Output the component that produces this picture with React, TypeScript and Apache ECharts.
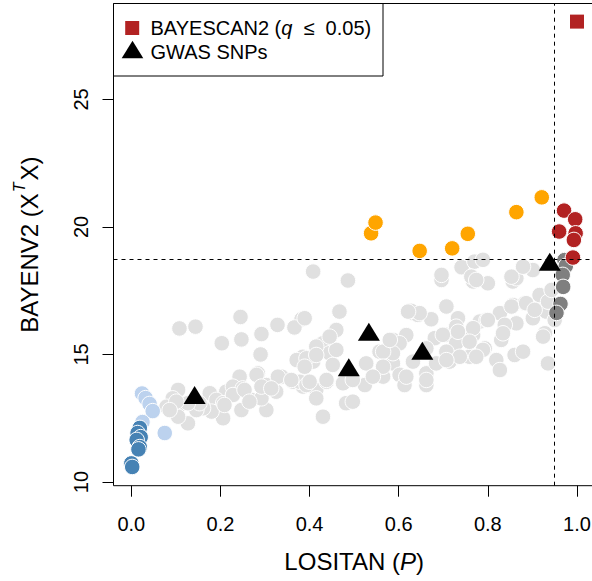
import React, { useEffect, useRef } from "react";
import * as echarts from "echarts";

const xTicks = [0, 0.2, 0.4, 0.6, 0.8, 1.0];
const yTicks = [10, 15, 20, 25];
const xThreshold = 0.95;
const yThreshold = 18.75;

const greyPoints = [
  [0.408, 18.25], [0.486, 17.9], [0.467, 16.68], [0.46, 15.96], [0.382, 16.38], [0.366, 16.06], [0.328, 16.16],
  [0.292, 15.8], [0.245, 16.47], [0.247, 15.59], [0.203, 15.44], [0.144, 16.09], [0.108, 16.02], [0.29, 15.0],
  [0.43, 15.44], [0.445, 15.05], [0.385, 14.91], [0.371, 14.78], [0.452, 14.59], [0.408, 14.72], [0.337, 14.13],
  [0.363, 13.93], [0.284, 14.26], [0.243, 14.13], [0.213, 13.54], [0.228, 13.74], [0.25, 13.67], [0.303, 13.8],
  [0.325, 13.54], [0.385, 13.74], [0.415, 13.61], [0.438, 13.93], [0.475, 13.87], [0.482, 13.09], [0.415, 13.28],
  [0.378, 13.93], [0.105, 13.61], [0.093, 13.28], [0.079, 12.95], [0.108, 13.02], [0.127, 12.3], [0.105, 12.56],
  [0.176, 13.48], [0.191, 13.22], [0.206, 13.09], [0.206, 12.5], [0.18, 12.76], [0.161, 12.89], [0.146, 12.82],
  [0.153, 13.09], [0.228, 13.41], [0.247, 12.82], [0.269, 13.22], [0.303, 12.82], [0.292, 13.28], [0.43, 12.56],
  [0.127, 13.09], [0.393, 14.85], [0.415, 15.31], [0.281, 14.2], [0.329, 14.13], [0.359, 14.0], [0.292, 13.74],
  [0.314, 13.67], [0.254, 13.61], [0.393, 13.8], [0.101, 13.15], [0.086, 12.82], [0.209, 13.02], [0.265, 13.15],
  [0.696, 17.92], [0.767, 17.86], [0.8, 17.79], [0.856, 17.86], [0.389, 16.42], [0.389, 14.52], [0.4, 13.93],
  [0.497, 13.15], [0.524, 13.8], [0.557, 15.11], [0.527, 14.65], [0.587, 15.57], [0.617, 15.76], [0.587, 14.65],
  [0.602, 14.2], [0.565, 14.13], [0.613, 13.8], [0.662, 13.8], [0.662, 14.26], [0.632, 16.62], [0.643, 16.55],
  [0.673, 16.38], [0.707, 16.88], [0.681, 15.64], [0.707, 15.77], [0.733, 16.42], [0.729, 15.44], [0.707, 15.11],
  [0.684, 14.65], [0.714, 14.72], [0.759, 14.91], [0.767, 15.77], [0.782, 16.29], [0.793, 15.24], [0.819, 14.78],
  [0.827, 14.39], [0.797, 16.35], [0.827, 16.62], [0.856, 16.94], [0.883, 17.01], [0.901, 16.42], [0.864, 16.22],
  [0.83, 15.57], [0.86, 14.98], [0.879, 15.11], [0.928, 15.83], [0.935, 14.65], [0.939, 17.01], [0.931, 16.68],
  [0.838, 16.16], [0.729, 16.09], [0.741, 18.42], [0.77, 18.64], [0.789, 18.71], [0.763, 18.05], [0.774, 17.92],
  [0.864, 17.99], [0.853, 18.05], [0.901, 18.31], [0.879, 18.44], [0.916, 17.33], [0.935, 17.07], [0.628, 16.71],
  [0.647, 16.62], [0.699, 15.77], [0.733, 15.89], [0.767, 16.03], [0.8, 16.35], [0.853, 16.88], [0.886, 17.01],
  [0.905, 16.75], [0.924, 15.7], [0.834, 15.83], [0.759, 15.5], [0.789, 15.18], [0.774, 14.91], [0.737, 14.91],
  [0.662, 15.24], [0.602, 15.44], [0.587, 15.05], [0.565, 15.11], [0.58, 15.57], [0.632, 14.72], [0.617, 14.13],
  [0.662, 14.0], [0.707, 14.78], [0.565, 14.52], [0.46, 15.18], [0.445, 15.7], [0.497, 14.0], [0.542, 14.13],
  [0.621, 16.68], [0.438, 14.0], [0.415, 14.98], [0.696, 18.12], [0.943, 17.53], [0.95, 16.35],
];
const lightBluePoints = [
  [0.024, 13.47], [0.032, 13.29], [0.041, 13.06], [0.048, 12.78], [0.075, 11.92], [0.025, 12.35],
];
const steelBluePoints = [
  [0.019, 12.12], [0.014, 11.92], [0.021, 11.76], [0.012, 11.65], [0.019, 11.37], [0.016, 11.28], [0.0, 10.73], [0.002, 10.59],
];
const orangePoints = [
  [0.538, 19.75], [0.548, 20.17], [0.647, 19.06], [0.72, 19.16], [0.755, 19.73], [0.864, 20.58], [0.921, 21.16],
];
const darkGreyPoints = [
  [0.972, 18.7], [0.975, 18.47], [0.968, 18.12], [0.969, 17.65], [0.963, 16.98], [0.954, 16.63],
];
const redPoints = [
  [0.971, 20.64], [0.996, 20.3], [0.96, 19.82], [0.997, 19.75], [0.993, 19.49], [0.991, 18.8],
];
const gwasPoints = [
  [0.142, 13.41], [0.488, 14.5], [0.533, 15.89], [0.653, 15.15], [0.939, 18.64],
];
const bayescanPoints = [[1.0, 28.05]];

const FONT = "'Liberation Sans', Arial, Helvetica, sans-serif";

function circles(name: string, data: number[][], color: string, extra: any = {}) {
  return {
    name,
    type: "scatter",
    data,
    symbol: "circle",
    symbolSize: 15.5,
    itemStyle: { color, borderColor: "#ffffff", borderWidth: 1, opacity: 1 },
    emphasis: { disabled: true },
    ...extra,
  };
}

export default function App() {
  const ref = useRef<HTMLDivElement>(null);
  useEffect(() => {
    if (!ref.current) return;
    const chart = echarts.init(ref.current, null, { renderer: "svg" });
    const option: any = {
      animation: false,
      backgroundColor: "#ffffff",
      textStyle: { fontFamily: FONT },
      grid: {
        left: 113.5,
        top: 3.5,
        width: 481.3,
        height: 482.2,
        show: true,
        borderColor: "#000000",
        borderWidth: 1,
        backgroundColor: "transparent",
        containLabel: false,
        outerBoundsMode: "none",
      },
      xAxis: {
        type: "value",
        min: -0.04,
        max: 1.04,
        axisLine: { show: false, onZero: false },
        splitLine: { show: false },
        axisTick: { show: true, customValues: xTicks, length: 11, lineStyle: { color: "#000", width: 1 } },
        axisLabel: {
          customValues: xTicks,
          formatter: (v: number) => v.toFixed(1),
          fontSize: 20,
          color: "#000",
          margin: 28,
          fontFamily: FONT,
        },
        name: "{n|LOSITAN (}{i|P}{n|)}",
        nameLocation: "middle",
        nameGap: 64,
        nameTextStyle: {
          fontFamily: FONT,
          color: "#000",
          rich: {
            n: { fontSize: 24, fontFamily: FONT, color: "#000" },
            i: { fontSize: 24, fontFamily: FONT, fontStyle: "italic", color: "#000" },
          },
        },
      },
      yAxis: {
        type: "value",
        min: 9.855,
        max: 28.76,
        axisLine: { show: false, onZero: false },
        splitLine: { show: false },
        axisTick: { show: true, customValues: yTicks, length: 11, lineStyle: { color: "#000", width: 1 } },
        axisLabel: {
          customValues: yTicks,
          rotate: 90,
          fontSize: 20,
          color: "#000",
          margin: 23,
          fontFamily: FONT,
        },
        name: "{n|BAYENV2 (X}{s|T}{n|X)}",
        nameLocation: "middle",
        nameRotate: 90,
        nameGap: 72,
        nameTextStyle: {
          fontFamily: FONT,
          color: "#000",
          rich: {
            n: { fontSize: 24, fontFamily: FONT, color: "#000", lineHeight: 30, verticalAlign: "bottom" },
            s: { fontSize: 16, fontFamily: FONT, fontStyle: "italic", color: "#000", lineHeight: 30, verticalAlign: "top", padding: [0, 2, 0, 1] },
          },
        },
      },
      series: [
        circles("Other SNPs", greyPoints, "#E0E0E0", {
          markLine: {
            silent: true,
            symbol: ["none", "none"],
            label: { show: false },
            lineStyle: { type: [4, 4], color: "#000", width: 1, opacity: 1 },
            data: [{ yAxis: yThreshold }, { xAxis: xThreshold }],
          },
        }),
        circles("LOSITAN low", lightBluePoints, "#BCD2EE"),
        circles("LOSITAN very low", steelBluePoints, "#4682B4"),
        circles("BAYENV2 outliers", orangePoints, "#FFA500"),
        circles("LOSITAN outliers", darkGreyPoints, "#7F7F7F"),
        circles("Both outliers", redPoints, "#B22222"),
        {
          name: "GWAS SNPs",
          type: "scatter",
          data: gwasPoints,
          symbol: "triangle",
          symbolSize: [22, 18],
          itemStyle: { color: "#000", opacity: 1 },
          emphasis: { disabled: true },
        },
        {
          name: "BAYESCAN2",
          type: "scatter",
          data: bayescanPoints,
          symbol: "rect",
          symbolSize: 14,
          itemStyle: { color: "#B22222", opacity: 1 },
          emphasis: { disabled: true },
        },
      ],
      graphic: [
        {
          type: "group",
          z: 100,
          children: [
            {
              type: "rect",
              shape: { x: 113.5, y: 3.5, width: 269.5, height: 72.5 },
              style: { fill: "#ffffff", stroke: "#000000", lineWidth: 1 },
            },
            {
              type: "rect",
              shape: { x: 125.2, y: 21, width: 14, height: 14 },
              style: { fill: "#B22222" },
            },
            {
              type: "polygon",
              shape: { points: [[132.5, 40.7], [143.3, 58.3], [121.7, 58.3]] },
              style: { fill: "#000000" },
            },
            {
              type: "text",
              x: 150.5,
              y: 28,
              style: {
                text: "{n|BAYESCAN2 (}{i|q}{n|  ≤  0.05)}",
                verticalAlign: "middle",
                align: "left",
                fill: "#000",
                rich: {
                  n: { fontSize: 20, fontFamily: FONT, fill: "#000" },
                  i: { fontSize: 20, fontFamily: FONT, fontStyle: "italic", fill: "#000" },
                },
              },
            },
            {
              type: "text",
              x: 150.5,
              y: 51.5,
              style: {
                text: "GWAS SNPs",
                verticalAlign: "middle",
                align: "left",
                fill: "#000",
                fontSize: 20,
                fontFamily: FONT,
              },
            },
          ],
        },
      ],
    };
    chart.setOption(option);
    return () => chart.dispose();
  }, []);
  return (
    <div
      ref={ref}
      style={{ position: "fixed", left: 0, top: 0, width: 592, height: 581, background: "#fff" }}
    />
  );
}
